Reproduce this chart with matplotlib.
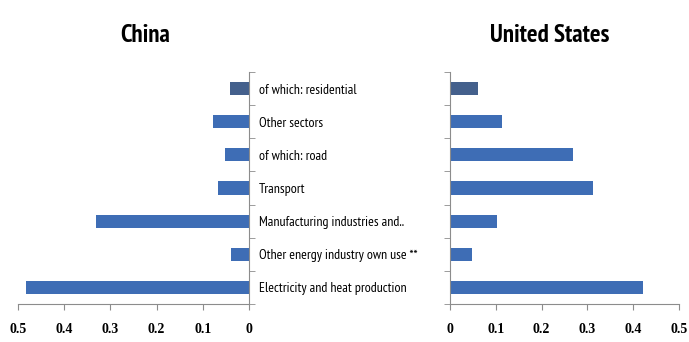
import matplotlib
matplotlib.use("Agg")
import matplotlib.pyplot as plt
import numpy as np

categories = ["Electricity and heat production", "Other energy industry own use **",
              "Manufacturing industries and..", "Transport", "of which: road",
              "Other sectors", "of which: residential"]
china = [0.483, 0.039, 0.331, 0.067, 0.052, 0.078, 0.041]
usa = [0.421, 0.048, 0.103, 0.312, 0.269, 0.113, 0.061]
xticks = [0, 0.1, 0.2, 0.3, 0.4, 0.5]
xticklabels = ["0", "0.1", "0.2", "0.3", "0.4", "0.5"]

narrow = ["PT Sans Narrow", "DejaVu Sans"]
serif = ["Liberation Serif", "DejaVu Serif"]

bar_color = "#3E6DB5"
colors = [bar_color] * 6 + ["#44608C"]
spine_c = "#8C8C8C"

W, H = 689, 342
fig = plt.figure(figsize=(W / 100, H / 100), dpi=100)
axL = fig.add_axes([18 / W, (H - 304) / H, (249 - 18) / W, (304 - 72) / H])
axR = fig.add_axes([450 / W, (H - 304) / H, (679 - 450) / W, (304 - 72) / H])

y = np.arange(len(categories))
axL.barh(y, china, height=0.4, color=colors)
axR.barh(y, usa, height=0.4, color=colors)

for ax in (axL, axR):
    ax.set_ylim(-0.5, len(categories) - 0.5)
    ax.set_xticks(xticks)
    ax.set_xticklabels(xticklabels, fontfamily=serif, fontsize=10, fontweight="bold")
    ax.tick_params(axis="x", length=4, color=spine_c, pad=10)
    ax.spines["top"].set_visible(False)
    for s in ax.spines.values():
        s.set_color(spine_c)
    ax.set_yticks(np.arange(-0.5, len(categories), 1.0), minor=True)
    ax.tick_params(axis="y", which="minor", length=4, color=spine_c)

axL.set_xlim(0.5, 0)
axL.spines["left"].set_visible(False)
axL.yaxis.tick_right()
axL.set_yticks(y)
axL.set_yticklabels(categories, fontfamily=narrow, fontsize=10)
axL.tick_params(axis="y", which="major", length=0, pad=7)

axR.set_xlim(0, 0.5)
axR.spines["right"].set_visible(False)
axR.set_yticks([])
axR.set_yticks(np.arange(-0.5, len(categories), 1.0), minor=True)
axR.tick_params(axis="y", which="minor", length=4, color=spine_c)

fig.text(145 / W, 1 - 36 / H, "China", ha="center", va="center",
         fontfamily=narrow, fontweight="bold", fontsize=18)
fig.text(550 / W, 1 - 36 / H, "United States", ha="center", va="center",
         fontfamily=narrow, fontweight="bold", fontsize=18)

fig.savefig("out.png", dpi=100)
